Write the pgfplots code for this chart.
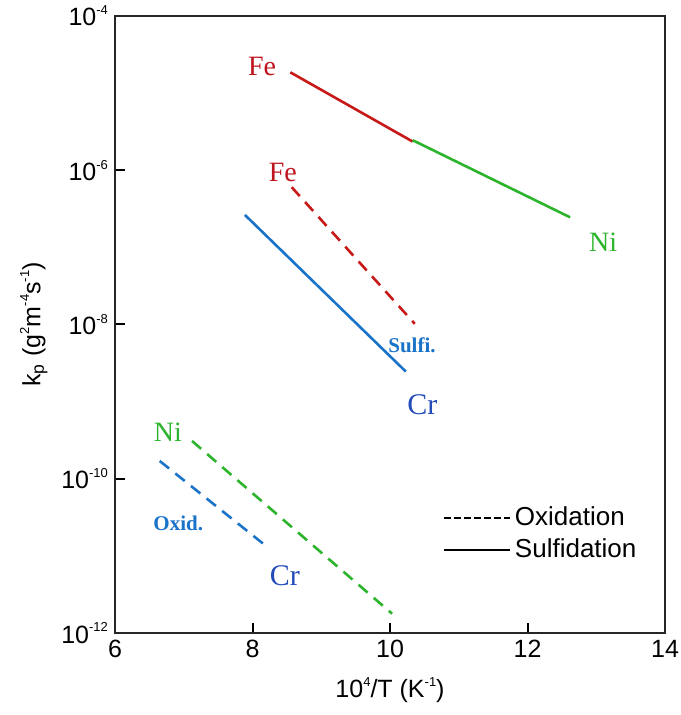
\documentclass[border=0pt]{standalone}
\usepackage{fontspec}
\setmainfont{Liberation Sans}
\newfontfamily\serif{Liberation Serif}
\usepackage{pgfplots}
\pgfplotsset{compat=1.18}
\definecolor{cred}{RGB}{200,25,25}
\definecolor{clred}{RGB}{190,20,30}
\definecolor{cgreen}{RGB}{45,180,45}
\definecolor{cblue}{RGB}{25,115,200}
\definecolor{cdblue}{RGB}{35,75,185}
\newcommand{\sups}[1]{\raisebox{0.85ex}{\fontsize{6.5}{7}\selectfont #1}}
\begin{document}
\begin{tikzpicture}
\begin{axis}[
  scale only axis, width=275pt, height=308.5pt,
  xmin=6, xmax=14, ymin=1e-12, ymax=1e-4, ymode=log,
  xtick={6,8,10,12,14},
  ytick={1e-12,1e-10,1e-8,1e-6,1e-4},
  yticklabels={10\sups{-12},10\sups{-10},10\sups{-8},10\sups{-6},10\sups{-4}},
  yminorticks=false, xminorticks=false,
  tick align=inside, tick pos=left,
  major tick length=5pt,
  tick style={black, line width=1pt},
  axis line style={line width=1.3pt, black!85},
  ticklabel style={font=\fontsize{12.5}{14}\selectfont},
  /pgf/number format/assume math mode=true,
  xlabel={10\sups{4}/T (K\sups{-1})},
  ylabel={k\textsubscript{p} (g\sups{2}m\sups{-4}s\sups{-1})},
  xlabel style={yshift=-3pt},
  label style={font=\fontsize{12.5}{14}\selectfont},
  legend style={at={(rel axis cs:0.585,0.218)}, anchor=north west, draw=none, fill=none,
    font=\fontsize{13}{15}\selectfont, row sep=1pt},
  legend cell align=left,
  legend image code/.code={\draw[#1] (0pt,0pt) -- (33pt,0pt);},
]
\addlegendimage{black, line width=0.9pt, dash pattern=on 3.5pt off 1.5pt}
\addlegendentry{Oxidation}
\addlegendimage{black, line width=0.9pt}
\addlegendentry{Sulfidation}

% Fe sulfidation
\addplot[cred, line width=1.3pt, forget plot] coordinates {(8.55,1.86e-5) (10.33,2.35e-6)};
% Ni sulfidation
\addplot[cgreen, line width=1.3pt, forget plot] coordinates {(10.33,2.45e-6) (12.62,2.45e-7)};
% Fe oxidation
\addplot[cred, line width=1.3pt, dash pattern=on 6pt off 4pt, forget plot] coordinates {(8.57,6.03e-7) (10.36,1.02e-8)};
% Cr sulfidation
\addplot[cblue, line width=1.3pt, forget plot] coordinates {(7.89,2.63e-7) (10.23,2.45e-9)};
% Ni oxidation
\addplot[cgreen, line width=1.3pt, dash pattern=on 6pt off 4pt, forget plot] coordinates {(7.12,3.09e-10) (10.03,1.78e-12)};
% Cr oxidation
\addplot[cblue, line width=1.3pt, dash pattern=on 6pt off 4pt, forget plot] coordinates {(6.65,1.70e-10) (8.15,1.45e-11)};

\node[text=clred, font=\serif\fontsize{14}{16}\selectfont] at (axis cs:8.14,2.24e-5) {Fe};
\node[text=clred, font=\serif\fontsize{14}{16}\selectfont] at (axis cs:8.44,9.3e-7) {Fe};
\node[text=cgreen, font=\serif\fontsize{14}{16}\selectfont] at (axis cs:13.10,1.15e-7) {Ni};
\node[text=cblue, font=\serif\bfseries\fontsize{10.5}{12}\selectfont] at (axis cs:10.32,5.4e-9) {Sulfi.};
\node[text=cdblue, font=\serif\fontsize{15}{17}\selectfont] at (axis cs:10.47,9.1e-10) {Cr};
\node[text=cgreen, font=\serif\fontsize{14}{16}\selectfont] at (axis cs:6.77,4.0e-10) {Ni};
\node[text=cblue, font=\serif\bfseries\fontsize{10.5}{12}\selectfont] at (axis cs:6.92,2.63e-11) {Oxid.};
\node[text=cdblue, font=\serif\fontsize{15}{17}\selectfont] at (axis cs:8.47,5.5e-12) {Cr};

\coordinate (bl) at (rel axis cs:-0.2091,-0.1329);
\coordinate (tr) at (rel axis cs:1.0273,1.0259);
\end{axis}
\pgfresetboundingbox
\path[use as bounding box] (bl) rectangle (tr);
\end{tikzpicture}
\end{document}
